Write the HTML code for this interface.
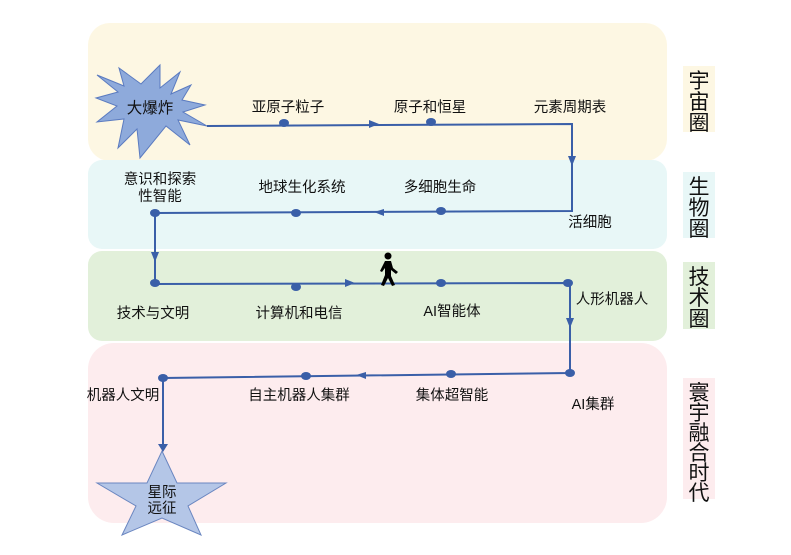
<!DOCTYPE html>
<html><head><meta charset="utf-8"><style>
body{margin:0;background:#fff;}
svg{display:block;font-family:"Liberation Sans","Noto Sans CJK SC",sans-serif;}
</style></head><body>
<svg width="791" height="555" viewBox="0 0 791 555" xmlns="http://www.w3.org/2000/svg">
<rect x="88" y="23" width="579" height="138" rx="22" fill="#fdf7e3"/>
<rect x="88" y="160" width="579" height="89" rx="14" fill="#e8f7f7"/>
<rect x="88" y="251" width="579" height="90" rx="14" fill="#e2f0da"/>
<rect x="88" y="343" width="579" height="180" rx="26" fill="#fdecee"/>
<rect x="683" y="66" width="32" height="66" fill="#fdf7e3"/>
<rect x="683" y="172" width="32" height="66" fill="#e8f7f7"/>
<rect x="683" y="262" width="32" height="67" fill="#e2f0da"/>
<rect x="683" y="378" width="32" height="121" fill="#fdecee"/>
<g font-size="21" fill="#111" text-anchor="middle">
<text x="699" y="88">宇</text><text x="699" y="109">宙</text><text x="699" y="130">圈</text>
<text x="699" y="194">生</text><text x="699" y="215">物</text><text x="699" y="236">圈</text>
<text x="699" y="284">技</text><text x="699" y="305">术</text><text x="699" y="326">圈</text>
<text x="699" y="400">寰</text><text x="699" y="420">宇</text><text x="699" y="440">融</text><text x="699" y="460">合</text><text x="699" y="480">时</text><text x="699" y="500">代</text>
</g>
<polygon points="160,65 160,88 180,72 171,94 191,85 182,100 205,105 183,112 207,126 178,120 190,145 166,126 140,158 137,129 118,148 124,119 97,122 117,106 96,98 118,92 97,75 124,86 119,68 141,84" fill="#8eaadb" stroke="#5b7bc0" stroke-width="1"/>
<polygon points="162,451 177,483 226,483 188,506 201,535 162,518 122,535 136,506 97,483 147,483" fill="#b4c6e7" stroke="#6a86c0" stroke-width="1"/>
<g stroke="#3a5fa8" stroke-width="2" fill="none">
<polyline points="207,126 572,124 572,211 155,213 155,284 570,283 570,373 163,378 163,449"/>
</g>
<g stroke="none" fill="#3a5fa8">
<path d="M369,120 L379,124 L369,128z"/>
<path d="M568,156 L572,166 L576,156z"/>
<path d="M384,209 L374,212 L384,216z"/>
<path d="M151,252 L155,262 L159,252z"/>
<path d="M345,279 L355,283 L345,287z"/>
<path d="M566,318 L570,328 L574,318z"/>
<path d="M366,372 L356,375 L366,379z"/>
<path d="M158,444 L163,452 L168,444z"/>
<ellipse cx="284" cy="123" rx="5" ry="4"/><ellipse cx="431" cy="122" rx="5" ry="4"/>
<ellipse cx="441" cy="211" rx="5" ry="4"/><ellipse cx="296" cy="213" rx="5" ry="4"/><ellipse cx="155" cy="213" rx="5" ry="4"/>
<ellipse cx="155" cy="283" rx="5" ry="4"/><ellipse cx="296" cy="287" rx="5" ry="4"/><ellipse cx="441" cy="283" rx="5" ry="4"/><ellipse cx="568" cy="283" rx="5" ry="4"/>
<ellipse cx="570" cy="373" rx="5" ry="4"/><ellipse cx="451" cy="374" rx="5" ry="4"/><ellipse cx="306" cy="376" rx="5" ry="4"/><ellipse cx="163" cy="378" rx="5" ry="4"/>
</g>
<g fill="#000">
<circle cx="388" cy="256" r="3.5"/>
<path d="M385,261 L391,261 L393,268 L398,272 L396,274 L391,270 L391,276 L395,285 L392,286 L388,278 L384,286 L381,285 L385,275 L385,268 L382,272 L380,271z"/>
</g>
<g font-size="14.5" fill="#111" text-anchor="middle">
<text x="150" y="113" font-size="15.5">大爆炸</text>
<text x="288" y="112">亚原子粒子</text>
<text x="430" y="112">原子和恒星</text>
<text x="570" y="112">元素周期表</text>
<text x="160" y="184">意识和探索</text>
<text x="160" y="201">性智能</text>
<text x="302" y="192">地球生化系统</text>
<text x="440" y="192">多细胞生命</text>
<text x="590" y="227">活细胞</text>
<text x="153" y="318">技术与文明</text>
<text x="299" y="318">计算机和电信</text>
<text x="452" y="316">AI智能体</text>
<text x="612" y="304">人形机器人</text>
<text x="123" y="400">机器人文明</text>
<text x="299" y="400">自主机器人集群</text>
<text x="452" y="400">集体超智能</text>
<text x="593" y="409">AI集群</text>
<text x="162" y="497">星际</text>
<text x="162" y="513">远征</text>
</g>
</svg>
</body></html>
